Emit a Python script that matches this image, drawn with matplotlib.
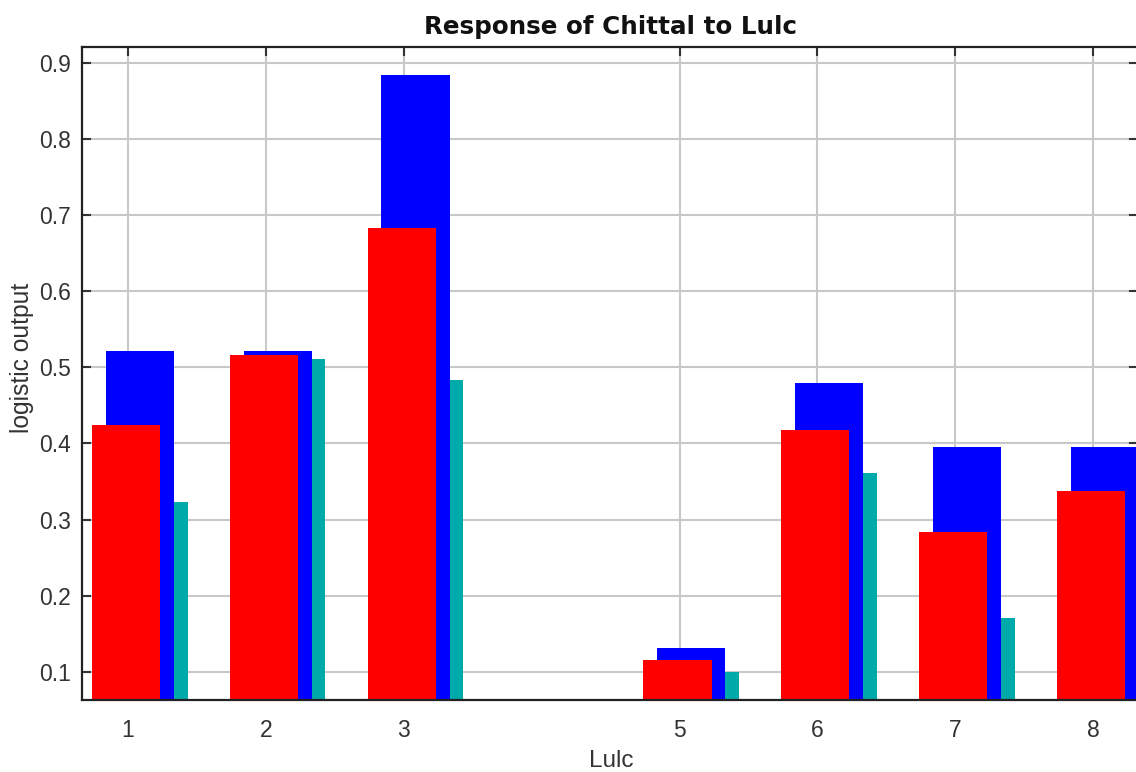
import matplotlib
matplotlib.use("Agg")
import matplotlib.pyplot as plt
import numpy as np

# Land-use / land-cover classes present in the data (class 4 absent)
lulc_classes = [1, 2, 3, 5, 6, 7, 8]
tick_labels = ["1", "2", "3", "5", "6", "7", "8"]

# Logistic output per class: mean response and mean +/- one standard deviation
mean_resp = [0.424, 0.516, 0.683, 0.116, 0.418, 0.284, 0.337]
mean_plus_sd = [0.522, 0.522, 0.884, 0.131, 0.480, 0.395, 0.395]
mean_minus_sd = [0.323, 0.511, 0.483, 0.100, 0.361, 0.171, 0.279]

y_ticks = [0.1, 0.2, 0.3, 0.4, 0.5, 0.6, 0.7, 0.8, 0.9]

BAR_W = 0.494
SHIFT = -0.015
RED = "#ff0000"
BLUE = "#0000ff"
TEAL = "#00aaaa"

plt.rcParams["font.family"] = ["Liberation Sans", "DejaVu Sans"]

fig = plt.figure(figsize=(11.36, 7.72), dpi=100)
ax = fig.add_axes([82 / 1136, 1 - 700 / 772, 1 - 82 / 1136 + 0.002, (700 - 47) / 772])

x = np.array(lulc_classes, dtype=float) + SHIFT
ax.bar(x + 0.2, mean_minus_sd, width=BAR_W, color=TEAL, zorder=2, linewidth=0)
ax.bar(x + 0.1, mean_plus_sd, width=BAR_W, color=BLUE, zorder=3, linewidth=0)
ax.bar(x, mean_resp, width=BAR_W, color=RED, zorder=4, linewidth=0)

ax.set_xlim(0.666, 8.327)
ax.set_ylim(0.0628, 0.921)
ax.set_xticks(lulc_classes)
ax.set_xticklabels(tick_labels)
ax.set_yticks(y_ticks)
ax.set_yticklabels([f"{v:.1f}" for v in y_ticks])

ax.grid(True, color="#c8c8c8", linewidth=1.5, zorder=0)
ax.set_axisbelow(True)

ax.tick_params(axis="y", direction="in", length=6.5, width=1.5, color="#333333",
               labelsize=16.5, pad=8, left=True, right=True)
ax.tick_params(axis="x", direction="in", length=6.5, width=1.5, color="#333333",
               labelsize=16.5, pad=14, bottom=False, top=True)
for lbl in ax.get_xticklabels() + ax.get_yticklabels():
    lbl.set_color("#333333")

for side in ("left", "bottom", "top"):
    ax.spines[side].set_linewidth(1.6)
    ax.spines[side].set_color("#222222")
    ax.spines[side].set_zorder(5)
ax.spines["right"].set_visible(False)

ax.set_xlabel("Lulc", fontsize=17.5, color="#333333", va="center")
ax.xaxis.set_label_coords(0.501, -0.094)
ax.set_ylabel("logistic output", fontsize=17.7, color="#333333", va="center")
ax.yaxis.set_label_coords(-0.0565, 0.524)
fig.text(610 / 1136, 1 - 27 / 772, "Response of Chittal to Lulc", ha="center", va="center",
         fontsize=17.7, fontweight="bold", family="DejaVu Sans", color="#111111")

fig.savefig("out.png", dpi=100)
